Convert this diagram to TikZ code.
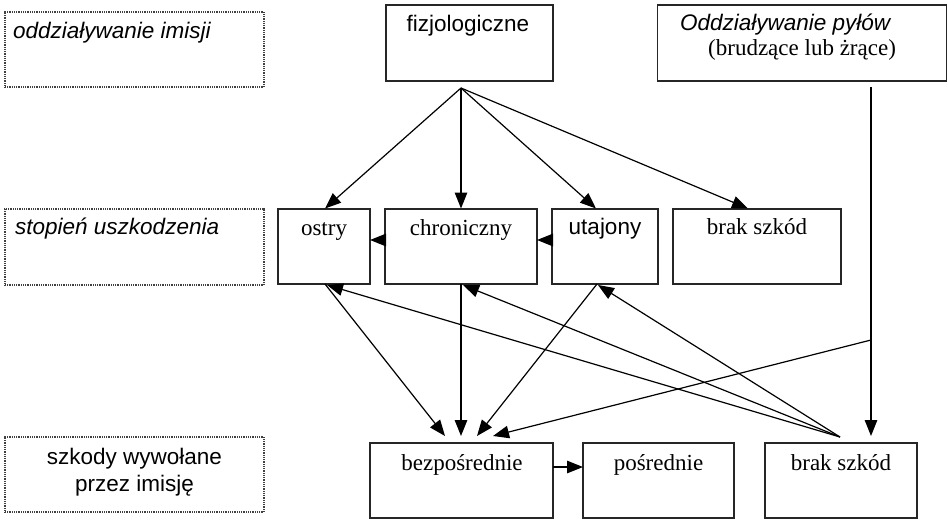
\documentclass[tikz,border=0pt]{standalone}
\usepackage{fontspec}
\setmainfont{Liberation Serif}
\setsansfont{Liberation Sans}
\usetikzlibrary{arrows.meta}
\begin{document}
\begin{tikzpicture}[x=1pt,y=-1pt,
  box/.style={draw=black!85, line width=1.3pt, inner sep=0pt, outer sep=0pt},
  lbl/.style={draw=black!75, line width=1.1pt, dash pattern=on 0.9pt off 0.9pt, inner sep=0pt, outer sep=0pt},
  arr/.style={line width=1.2pt, -{Triangle[length=16pt,width=12.5pt]}},
  ln/.style={line width=1.2pt},
  sf/.style={font=\fontsize{22.5}{27}\selectfont\sffamily, inner sep=0pt},
  sfi/.style={font=\fontsize{22.5}{27}\selectfont\sffamily\itshape, inner sep=0pt},
  rm/.style={font=\fontsize{23}{27}\selectfont\rmfamily, inner sep=0pt}]
\useasboundingbox (0,0) rectangle (948,520);
% label boxes
\node[lbl, minimum width=259pt, minimum height=75pt] (l1) at (134.5,49.5) {};
\node[lbl, minimum width=259pt, minimum height=76pt] (l2) at (134.5,247) {};
\node[lbl, minimum width=259pt, minimum height=75pt] (l3) at (134.5,474.5) {};
\node[sfi, anchor=base west] (t1) at (13,38) {oddziaływanie imisji};
\node[sfi, anchor=base west] (t2) at (15,234) {stopień uszkodzenia};
\node[sf, anchor=base] (t3a) at (134.5,464) {szkody wywołane};
\node[sf, anchor=base] (t3b) at (134.5,491) {przez imisję};
% top boxes
\node[box, minimum width=167pt, minimum height=76pt] (fizj) at (469.5,43) {};
\node[sf, anchor=base] (tf) at (468,31.5) {fizjologiczne};
\node[box, minimum width=289pt, minimum height=76pt] (odd) at (801.8,43) {};
\node[sfi, anchor=base west] (to1) at (680,30) {Oddziaływanie pyłów};
\node[rm, anchor=base west] (to2) at (708,55) {(brudzące lub żrące)};
% level 2
\node[box, minimum width=92pt, minimum height=75pt] (ostry) at (324,246.5) {};
\node[box, minimum width=152pt, minimum height=75pt] (chron) at (461,246.5) {};
\node[box, minimum width=106pt, minimum height=75pt] (utaj) at (605,246.5) {};
\node[box, minimum width=168pt, minimum height=75pt] (brak2) at (757,246.5) {};
\node[rm, anchor=base] at (324,235) {ostry};
\node[rm, anchor=base] at (461,235) {chroniczny};
\node[sf, anchor=base] at (605,234) {utajony};
\node[rm, anchor=base] at (757,234) {brak szkód};
% level 3
\node[box, minimum width=183pt, minimum height=75pt] (bezp) at (461.5,480.5) {};
\node[box, minimum width=151pt, minimum height=75pt] (posr) at (658.5,480.5) {};
\node[box, minimum width=152pt, minimum height=75pt] (brak3) at (841,480.5) {};
\node[rm, anchor=base] at (462,470) {bezpośrednie};
\node[rm, anchor=base] at (658.5,470) {pośrednie};
\node[rm, anchor=base] at (841,470) {brak szkód};
% helper coordinates
\coordinate (apex) at (461,88);
\coordinate (b1) at (445,436);
\coordinate (b2) at (461,436);
\coordinate (b3) at (477,436);
\coordinate (b4) at (493,436);
\coordinate (conv) at (840,437);
\coordinate (vtop) at (871,87);
\coordinate (vbot) at (871,436);
\coordinate (branch) at (871,340);
% fan from fizjologiczne
\draw[arr] (apex) -- (325,208.5);
\draw[arr] (apex) -- (461,208.5);
\draw[arr] (apex) -- (596,208.5);
\draw[arr] (apex) -- (748,208.5);
% level 2 horizontal
\draw[arr] (utaj.west |- 0,240) -- (chron.east |- 0,240);
\draw[arr] (chron.west |- 0,240) -- (ostry.east |- 0,240);
% level 2 to bezp
\draw[arr] (325,284) -- (b1);
\draw[arr] (461,284) -- (b2);
\draw[arr] (597,284) -- (b3);
% brak3 to level 2
\draw[arr] (conv) -- (327,285);
\draw[arr] (conv) -- (463,285);
\draw[arr] (conv) -- (598,285);
% dust line
\draw[arr] (vtop) -- (vbot);
\draw[arr] (branch) -- (b4);
% bezp -> posr
\draw[arr] (bezp.east |- 0,467) -- (posr.west |- 0,467);
\end{tikzpicture}
\end{document}
